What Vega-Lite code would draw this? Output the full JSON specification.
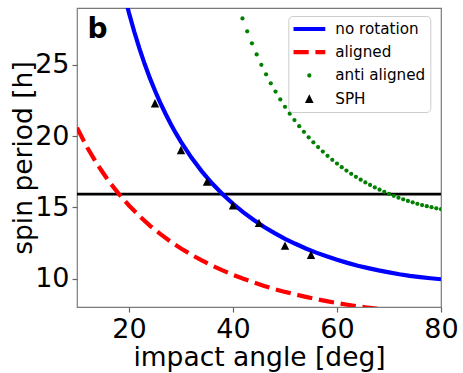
{
  "$schema": "https://vega.github.io/schema/vega-lite/v6.json",
  "width": 364,
  "height": 299,
  "autosize": {"type": "none"},
  "padding": {"left": 77, "top": 8, "right": 22, "bottom": 66},
  "config": {
    "font": "DejaVu Sans",
    "view": {"stroke": "#7a7a7a", "strokeWidth": 1.2},
    "axis": {"grid": false, "domain": false, "labelFont": "DejaVu Sans", "titleFont": "DejaVu Sans", "labelColor": "black", "titleColor": "black", "titleFontWeight": "normal", "tickColor": "#666666", "tickWidth": 1.2, "tickSize": 5, "labelFlush": false, "labelOverlap": false}
  },
  "title": {"text": "b", "anchor": "start", "frame": "group", "orient": "top", "offset": 0, "baseline": "alphabetic", "dx": 10.5, "dy": 57.5, "fontSize": 28, "fontWeight": "bold", "font": "DejaVu Sans", "color": "black"},
  "datasets": {
    "curves": [
      {"series": "no rotation", "angle": 19, "period": 30.10},
      {"series": "no rotation", "angle": 19.5, "period": 29.36},
      {"series": "no rotation", "angle": 20, "period": 28.65},
      {"series": "no rotation", "angle": 21, "period": 27.35},
      {"series": "no rotation", "angle": 22, "period": 26.16},
      {"series": "no rotation", "angle": 23, "period": 25.08},
      {"series": "no rotation", "angle": 24, "period": 24.09},
      {"series": "no rotation", "angle": 25, "period": 23.19},
      {"series": "no rotation", "angle": 26, "period": 22.36},
      {"series": "no rotation", "angle": 27, "period": 21.59},
      {"series": "no rotation", "angle": 28, "period": 20.87},
      {"series": "no rotation", "angle": 29, "period": 20.21},
      {"series": "no rotation", "angle": 30, "period": 19.60},
      {"series": "no rotation", "angle": 32, "period": 18.49},
      {"series": "no rotation", "angle": 34, "period": 17.53},
      {"series": "no rotation", "angle": 36, "period": 16.67},
      {"series": "no rotation", "angle": 38, "period": 15.92},
      {"series": "no rotation", "angle": 40, "period": 15.25},
      {"series": "no rotation", "angle": 42, "period": 14.65},
      {"series": "no rotation", "angle": 44, "period": 14.11},
      {"series": "no rotation", "angle": 46, "period": 13.62},
      {"series": "no rotation", "angle": 48, "period": 13.19},
      {"series": "no rotation", "angle": 50, "period": 12.79},
      {"series": "no rotation", "angle": 52, "period": 12.44},
      {"series": "no rotation", "angle": 54, "period": 12.11},
      {"series": "no rotation", "angle": 56, "period": 11.82},
      {"series": "no rotation", "angle": 58, "period": 11.56},
      {"series": "no rotation", "angle": 60, "period": 11.32},
      {"series": "no rotation", "angle": 62, "period": 11.10},
      {"series": "no rotation", "angle": 64, "period": 10.90},
      {"series": "no rotation", "angle": 66, "period": 10.73},
      {"series": "no rotation", "angle": 68, "period": 10.57},
      {"series": "no rotation", "angle": 70, "period": 10.43},
      {"series": "no rotation", "angle": 72, "period": 10.30},
      {"series": "no rotation", "angle": 74, "period": 10.19},
      {"series": "no rotation", "angle": 76, "period": 10.10},
      {"series": "no rotation", "angle": 78, "period": 10.02},
      {"series": "no rotation", "angle": 80, "period": 9.95},
      {"series": "aligned", "angle": 10, "period": 20.59},
      {"series": "aligned", "angle": 12, "period": 19.18},
      {"series": "aligned", "angle": 14, "period": 17.96},
      {"series": "aligned", "angle": 16, "period": 16.89},
      {"series": "aligned", "angle": 18, "period": 15.96},
      {"series": "aligned", "angle": 20, "period": 15.13},
      {"series": "aligned", "angle": 22, "period": 14.39},
      {"series": "aligned", "angle": 24, "period": 13.72},
      {"series": "aligned", "angle": 26, "period": 13.13},
      {"series": "aligned", "angle": 28, "period": 12.59},
      {"series": "aligned", "angle": 30, "period": 12.11},
      {"series": "aligned", "angle": 32, "period": 11.67},
      {"series": "aligned", "angle": 34, "period": 11.27},
      {"series": "aligned", "angle": 36, "period": 10.90},
      {"series": "aligned", "angle": 38, "period": 10.57},
      {"series": "aligned", "angle": 40, "period": 10.26},
      {"series": "aligned", "angle": 42, "period": 9.98},
      {"series": "aligned", "angle": 44, "period": 9.72},
      {"series": "aligned", "angle": 46, "period": 9.48},
      {"series": "aligned", "angle": 48, "period": 9.26},
      {"series": "aligned", "angle": 50, "period": 9.06},
      {"series": "aligned", "angle": 52, "period": 8.88},
      {"series": "aligned", "angle": 54, "period": 8.71},
      {"series": "aligned", "angle": 56, "period": 8.55},
      {"series": "aligned", "angle": 58, "period": 8.41},
      {"series": "aligned", "angle": 60, "period": 8.28},
      {"series": "aligned", "angle": 62, "period": 8.16},
      {"series": "aligned", "angle": 64, "period": 8.05},
      {"series": "aligned", "angle": 66, "period": 7.95},
      {"series": "aligned", "angle": 68, "period": 7.87},
      {"series": "aligned", "angle": 70, "period": 7.80},
      {"series": "anti aligned", "angle": 41.82, "period": 28.27},
      {"series": "anti aligned", "angle": 42.73, "period": 27.36},
      {"series": "anti aligned", "angle": 43.64, "period": 26.52},
      {"series": "anti aligned", "angle": 44.55, "period": 25.74},
      {"series": "anti aligned", "angle": 45.45, "period": 25.01},
      {"series": "anti aligned", "angle": 46.36, "period": 24.34},
      {"series": "anti aligned", "angle": 47.27, "period": 23.71},
      {"series": "anti aligned", "angle": 48.18, "period": 23.13},
      {"series": "anti aligned", "angle": 49.09, "period": 22.58},
      {"series": "anti aligned", "angle": 50.00, "period": 22.06},
      {"series": "anti aligned", "angle": 50.91, "period": 21.58},
      {"series": "anti aligned", "angle": 51.82, "period": 21.13},
      {"series": "anti aligned", "angle": 52.73, "period": 20.70},
      {"series": "anti aligned", "angle": 53.64, "period": 20.30},
      {"series": "anti aligned", "angle": 54.55, "period": 19.92},
      {"series": "anti aligned", "angle": 55.45, "period": 19.57},
      {"series": "anti aligned", "angle": 56.36, "period": 19.23},
      {"series": "anti aligned", "angle": 57.27, "period": 18.92},
      {"series": "anti aligned", "angle": 58.18, "period": 18.62},
      {"series": "anti aligned", "angle": 59.09, "period": 18.34},
      {"series": "anti aligned", "angle": 60.00, "period": 18.07},
      {"series": "anti aligned", "angle": 60.91, "period": 17.82},
      {"series": "anti aligned", "angle": 61.82, "period": 17.58},
      {"series": "anti aligned", "angle": 62.73, "period": 17.35},
      {"series": "anti aligned", "angle": 63.64, "period": 17.14},
      {"series": "anti aligned", "angle": 64.55, "period": 16.94},
      {"series": "anti aligned", "angle": 65.45, "period": 16.75},
      {"series": "anti aligned", "angle": 66.36, "period": 16.57},
      {"series": "anti aligned", "angle": 67.27, "period": 16.40},
      {"series": "anti aligned", "angle": 68.18, "period": 16.24},
      {"series": "anti aligned", "angle": 69.09, "period": 16.09},
      {"series": "anti aligned", "angle": 70.00, "period": 15.94},
      {"series": "anti aligned", "angle": 70.91, "period": 15.81},
      {"series": "anti aligned", "angle": 71.82, "period": 15.68},
      {"series": "anti aligned", "angle": 72.73, "period": 15.56},
      {"series": "anti aligned", "angle": 73.64, "period": 15.45},
      {"series": "anti aligned", "angle": 74.55, "period": 15.35},
      {"series": "anti aligned", "angle": 75.45, "period": 15.25},
      {"series": "anti aligned", "angle": 76.36, "period": 15.16},
      {"series": "anti aligned", "angle": 77.27, "period": 15.08},
      {"series": "anti aligned", "angle": 78.18, "period": 15.01},
      {"series": "anti aligned", "angle": 79.09, "period": 14.93},
      {"series": "anti aligned", "angle": 80.00, "period": 14.87}
    ],
    "sph": [
      {"series": "SPH", "angle": 25, "period": 22.31},
      {"series": "SPH", "angle": 30, "period": 19.03},
      {"series": "SPH", "angle": 35, "period": 16.81},
      {"series": "SPH", "angle": 40, "period": 15.14},
      {"series": "SPH", "angle": 45, "period": 13.91},
      {"series": "SPH", "angle": 50, "period": 12.31},
      {"series": "SPH", "angle": 55, "period": 11.67}
    ],
    "reference": [
      {"period": 15.93}
    ]
  },
  "layer": [
    {
      "data": {"name": "reference"},
      "mark": {"type": "rule", "color": "black", "strokeWidth": 2.8},
      "encoding": {"y": {"field": "period", "type": "quantitative"}}
    },
    {
      "data": {"name": "curves"},
      "transform": [{"filter": "datum.series === 'aligned'"}],
      "mark": {"type": "line", "clip": true, "strokeWidth": 4.2, "strokeDash": [15.4, 6.7]},
      "encoding": {
        "x": {"field": "angle", "type": "quantitative", "scale": {"domain": [10, 80], "nice": false, "zero": false},
          "axis": {"values": [20, 40, 60, 80], "title": "impact angle [deg]", "labelFontSize": 27, "labelPadding": 4.5, "titleFontSize": 26.5, "titlePadding": 2}},
        "y": {"field": "period", "type": "quantitative", "scale": {"domain": [8, 29], "nice": false, "zero": false},
          "axis": {"values": [10, 15, 20, 25], "title": "spin period [h]", "labelFontSize": 27, "labelPadding": 3, "titleFontSize": 26.5, "titlePadding": -3}},
        "color": {"field": "series", "type": "nominal",
          "scale": {"domain": ["no rotation", "aligned", "anti aligned", "SPH"], "range": ["#0000ff", "#ff0000", "#008000", "#000000"]},
          "legend": {
            "orient": "none", "legendX": 211.3, "legendY": 8, "title": null, "direction": "vertical",
            "padding": 5, "cornerRadius": 4, "fillColor": "rgba(255,255,255,0.8)", "strokeColor": "#cccccc",
            "labelFont": "DejaVu Sans", "labelFontSize": 15.2, "labelColor": "black", "labelOffset": 7.5,
            "symbolSize": 1024, "symbolStrokeWidth": 4.2, "symbolOffset": -2.5, "symbolOpacity": 1,
            "symbolType": {"expr": "datum.value === 'anti aligned' ? 'M-0.13,0A0.13,0.13,0,1,1,0.13,0A0.13,0.13,0,1,1,-0.13,0Z' : datum.value === 'SPH' ? 'M0,-0.27L0.27,0.27L-0.27,0.27Z' : 'stroke'"},
            "symbolFillColor": {"expr": "datum.value === 'anti aligned' ? '#008000' : datum.value === 'SPH' ? '#000000' : 'transparent'"},
            "symbolStrokeColor": {"expr": "datum.value === 'no rotation' ? '#0000ff' : datum.value === 'aligned' ? '#ff0000' : 'transparent'"},
            "symbolDash": {"expr": "datum.value === 'aligned' ? [15.4, 6.7] : (datum.value === 'no rotation' ? [1, 0] : [0, 1000])"},
            "clipHeight": 16, "rowPadding": 6.2
          }}
      }
    },
    {
      "data": {"name": "curves"},
      "transform": [{"filter": "datum.series === 'no rotation'"}],
      "mark": {"type": "line", "clip": true, "strokeWidth": 4.2},
      "encoding": {
        "x": {"field": "angle", "type": "quantitative"},
        "y": {"field": "period", "type": "quantitative"},
        "color": {"field": "series", "type": "nominal"}
      }
    },
    {
      "data": {"name": "curves"},
      "transform": [{"filter": "datum.series === 'anti aligned'"}],
      "mark": {"type": "point", "clip": true, "filled": true, "opacity": 1, "shape": "circle", "size": 18, "strokeWidth": 0},
      "encoding": {
        "x": {"field": "angle", "type": "quantitative"},
        "y": {"field": "period", "type": "quantitative"},
        "color": {"field": "series", "type": "nominal"}
      }
    },
    {
      "data": {"name": "sph"},
      "mark": {"type": "point", "clip": true, "filled": true, "opacity": 1, "shape": "M0,-1L1,1L-1,1Z", "size": 70, "strokeWidth": 0},
      "encoding": {
        "x": {"field": "angle", "type": "quantitative"},
        "y": {"field": "period", "type": "quantitative"},
        "color": {"field": "series", "type": "nominal"}
      }
    }
  ]
}
